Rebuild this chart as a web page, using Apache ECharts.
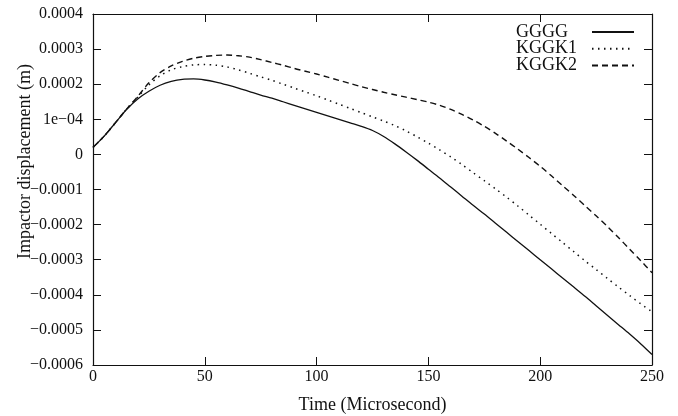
<!DOCTYPE html>
<html>
<head>
<meta charset="utf-8">
<script src="https://cdn.jsdelivr.net/npm/echarts@6/dist/echarts.min.js"></script>
<style>
html,body{margin:0;padding:0;background:#fff;}
#c{width:678px;height:416px;}
</style>
</head>
<body>
<div id="c"></div>
<script>
// Time (microsecond)
var timeUs = [0,5,10,15,20,25,30,35,40,45,50,55,60,65,70,75,80,85,90,95,100,105,110,115,120,125,130,135,140,145,150,155,160,165,170,175,180,185,190,195,200,205,210,215,220,225,230,235,240,245,250];
// Impactor displacement (m)
var gggg = [0.000020,0.000052,0.000090,0.000128,0.000158,0.000180,0.000197,0.000208,0.000214,0.000215,0.000212,0.000206,0.000198,0.000189,0.000179,0.000169,0.000160,0.000150,0.000140,0.000130,0.000120,0.000110,0.000100,0.000090,0.000080,0.000068,0.000051,0.000030,0.000007,-0.000017,-0.000042,-0.000067,-0.000093,-0.000119,-0.000145,-0.000170,-0.000196,-0.000222,-0.000248,-0.000274,-0.000300,-0.000326,-0.000352,-0.000378,-0.000404,-0.000431,-0.000458,-0.000485,-0.000512,-0.000540,-0.000570];
var kggk1 = [0.000020,0.000052,0.000090,0.000129,0.000163,0.000198,0.000224,0.000241,0.000250,0.000255,0.000256,0.000254,0.000249,0.000241,0.000231,0.000221,0.000211,0.000200,0.000189,0.000178,0.000167,0.000155,0.000143,0.000131,0.000119,0.000107,0.000095,0.000082,0.000067,0.000050,0.000032,0.000013,-0.000007,-0.000029,-0.000052,-0.000075,-0.000098,-0.000122,-0.000147,-0.000173,-0.000199,-0.000225,-0.000251,-0.000277,-0.000303,-0.000328,-0.000353,-0.000378,-0.000402,-0.000426,-0.000448];
var kggk2 = [0.000020,0.000052,0.000090,0.000129,0.000165,0.000204,0.000233,0.000252,0.000265,0.000274,0.000279,0.000282,0.000283,0.000281,0.000277,0.000270,0.000262,0.000254,0.000245,0.000237,0.000229,0.000220,0.000211,0.000202,0.000193,0.000185,0.000177,0.000170,0.000163,0.000156,0.000149,0.000140,0.000128,0.000114,0.000098,0.000080,0.000060,0.000038,0.000015,-0.000009,-0.000034,-0.000061,-0.000089,-0.000117,-0.000146,-0.000175,-0.000205,-0.000237,-0.000270,-0.000303,-0.000337];
var seriesNames = ['GGGG','KGGK1','KGGK2'];
var yTickValues = [-0.0006,-0.0005,-0.0004,-0.0003,-0.0002,-0.0001,0,0.0001,0.0002,0.0003,0.0004];
var yTickLabels = ['\u22120.0006','\u22120.0005','\u22120.0004','\u22120.0003','\u22120.0002','\u22120.0001','0','1e\u221204','0.0002','0.0003','0.0004'];
var xTickLabels = ['0','50','100','150','200','250'];

function pairs(arr){ return timeUs.map(function(t,i){ return [t, arr[i]]; }); }
function yLabel(v){
  for (var i=0;i<yTickValues.length;i++){ if (Math.abs(yTickValues[i]-v) < 1e-9) return yTickLabels[i]; }
  return '';
}
function xLabel(v){ var i = Math.round(v/50); return xTickLabels[i] !== undefined ? xTickLabels[i] : ''; }

var FONT = '"Liberation Serif","Times New Roman",serif';
var INK = '#111';
var chart = echarts.init(document.getElementById('c'), null, {renderer:'canvas'});
var tickStyle = {show:true, inside:true, length:8, lineStyle:{color:INK, width:1}};
var lineAx = {show:true, onZero:false, lineStyle:{color:INK, width:1.2}};
chart.setOption({
  animation:false,
  backgroundColor:'#fff',
  grid:{left:93, right:26, top:14, bottom:51, containLabel:false, outerBoundsMode:'none'},
  legend:{
    orient:'vertical', right:43, top:23, align:'right', padding:0,
    itemWidth:42, itemHeight:10, itemGap:-1.3,
    data:seriesNames,
    formatter:'{t|{name}}',
    itemStyle:{opacity:0},
    textStyle:{color:INK, fontFamily:FONT, fontSize:18, lineHeight:16.7,
      rich:{t:{width:71, align:'left', fontFamily:FONT, fontSize:18, lineHeight:16.7, color:INK}}}
  },
  xAxis:[{
    type:'value', min:0, max:250, interval:50,
    name:'Time (Microsecond)', nameLocation:'middle', nameGap:31, nameMoveOverlap:false,
    nameTextStyle:{color:INK, fontFamily:FONT, fontSize:18},
    axisLine:lineAx, axisTick:tickStyle,
    axisLabel:{color:INK, fontFamily:FONT, fontSize:16, margin:4, formatter:xLabel},
    splitLine:{show:false}
  },{
    type:'value', position:'top', min:0, max:250, interval:50,
    axisLine:lineAx, axisTick:tickStyle, axisLabel:{show:false}, splitLine:{show:false}
  }],
  yAxis:[{
    type:'value', min:-0.0006, max:0.0004, interval:0.0001,
    name:'Impactor displacement (m)', nameLocation:'middle', nameGap:59, nameMoveOverlap:false,
    nameTextStyle:{color:INK, fontFamily:FONT, fontSize:18, padding:[0,0,0,56]},
    axisLine:lineAx, axisTick:tickStyle,
    axisLabel:{color:INK, fontFamily:FONT, fontSize:16, margin:10, formatter:yLabel},
    splitLine:{show:false}
  },{
    type:'value', position:'right', min:-0.0006, max:0.0004, interval:0.0001,
    axisLine:lineAx, axisTick:tickStyle, axisLabel:{show:false}, splitLine:{show:false}
  }],
  series:[
    {name:seriesNames[0], type:'line', data:pairs(gggg), symbol:'none', showSymbol:false, smooth:0.3,
     lineStyle:{color:INK, width:1.3, type:'solid'}, itemStyle:{color:INK}},
    {name:seriesNames[1], type:'line', data:pairs(kggk1), symbol:'none', showSymbol:false, smooth:0.3,
     lineStyle:{color:INK, width:1.5, type:[1.5,4.5]}, itemStyle:{color:INK}},
    {name:seriesNames[2], type:'line', data:pairs(kggk2), symbol:'none', showSymbol:false, smooth:0.3,
     lineStyle:{color:INK, width:1.4, type:[6,4]}, itemStyle:{color:INK}}
  ]
});
</script>
</body>
</html>
